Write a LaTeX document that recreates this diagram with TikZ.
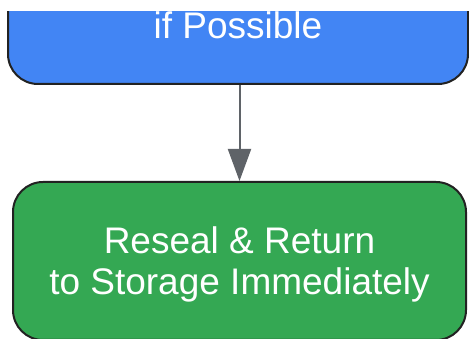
\documentclass[tikz,border=0pt]{standalone}
\usepackage{fontspec}
\setmainfont{Liberation Sans}
\usetikzlibrary{arrows.meta}
\definecolor{stepblue}{HTML}{4285F4}
\definecolor{stepgreen}{HTML}{34A853}
\definecolor{edgegray}{HTML}{5F6368}
\definecolor{boxline}{HTML}{222222}
\tikzset{
  stepbox/.style={draw=boxline, line width=2pt, rounded corners=30pt, text=white,
    align=center, font=\fontsize{37}{41}\selectfont, inner sep=0pt},
  flow/.style={draw=edgegray, line width=2pt, -{Triangle[width=23pt,length=32pt]}}
}
\begin{document}
\begin{tikzpicture}[x=1pt,y=-1pt]
            \useasboundingbox (0,0) rectangle (469,339);
            \clip (0,12) rectangle (469,339);

            \node[stepbox, fill=stepblue, minimum width=460pt, minimum height=118pt] (possible) at (238,25) {if Possible};
            \node[stepbox, fill=stepgreen, minimum width=453pt, minimum height=158pt, text depth=-6pt] (reseal) at (239.5,261) {Reseal \& Return\\to Storage Immediately};

            \draw[flow] (reseal.north |- possible.south) -- (reseal.north);
\end{tikzpicture}
\end{document}
